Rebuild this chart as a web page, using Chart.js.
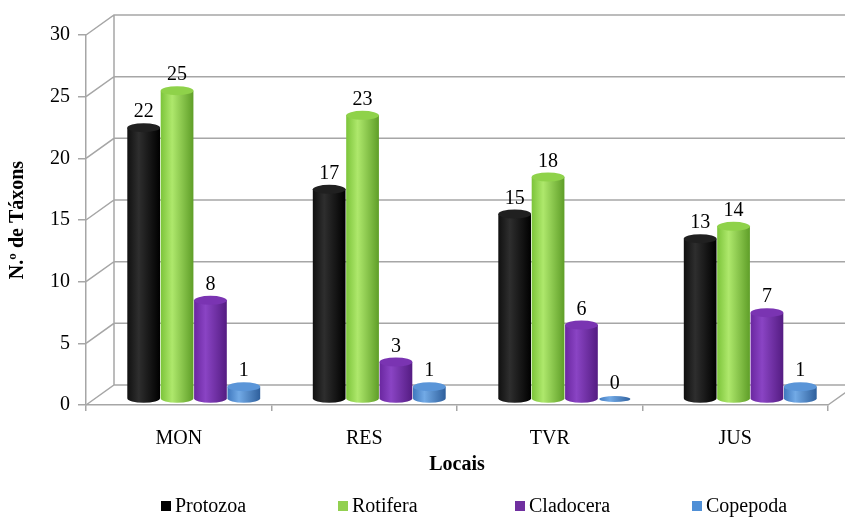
<!DOCTYPE html>
<html>
<head>
<meta charset="utf-8">
<script src="https://cdn.jsdelivr.net/npm/chart.js@4.4.1/dist/chart.umd.min.js"></script>
<style>
  html, body { margin: 0; padding: 0; background: #fff; }
  #wrap { width: 845px; height: 517px; }
</style>
</head>
<body>
<div id="wrap"><canvas id="chart"></canvas></div>
<script>
const locais = ['MON', 'RES', 'TVR', 'JUS'];
const protozoa = [22, 17, 15, 13];
const rotifera = [25, 23, 18, 14];
const cladocera = [8, 3, 6, 7];
const copepoda = [1, 1, 0, 1];
const seriesNames = ['Protozoa', 'Rotifera', 'Cladocera', 'Copepoda'];
const seriesColors = ['#000000', '#92d050', '#7030a0', '#4f8fd6'];

// cylinder shading: left edge, highlight, right edge, top cap
const shades = [
  ['#101010', '#2e2e2e', '#000000', '#202020'],
  ['#7cc43a', '#aee86c', '#5f9e28', '#8fd24a'],
  ['#6a27a0', '#8a44c4', '#541c82', '#7a34b2'],
  ['#3f78be', '#72aae6', '#2e5f9c', '#5a95d8']
];

const SERIF = "'Liberation Serif', 'Times New Roman', serif";
const GRID = '#a6a6a6';
// depth of the 3D box and where the bars sit inside it
const DEPTH_X = 28, DEPTH_Y = -20;
const BAR_X = 15, BAR_Y = -6;
const CAP_RY = 4.5;
// legend row
const LEGEND_X = 161, LEGEND_STEP = 177, LEGEND_Y = 506;

const frame3d = {
  id: 'frame3d',
  beforeDatasetsDraw(chart) {
    const { ctx, chartArea: a, scales: { y } } = chart;
    ctx.save();
    ctx.strokeStyle = GRID;
    ctx.lineWidth = 1.5;
    ctx.beginPath();
    // back wall gridlines and the slanted links to the front axis
    y.ticks.forEach(t => {
      const py = y.getPixelForValue(t.value);
      ctx.moveTo(a.left, py);
      ctx.lineTo(a.left + DEPTH_X, py + DEPTH_Y);
      ctx.lineTo(chart.width + 5, py + DEPTH_Y);
    });
    // back wall left edge
    ctx.moveTo(a.left + DEPTH_X, y.getPixelForValue(30) + DEPTH_Y);
    ctx.lineTo(a.left + DEPTH_X, y.getPixelForValue(0) + DEPTH_Y);
    // floor right edge
    ctx.moveTo(a.right, a.bottom);
    ctx.lineTo(a.right + DEPTH_X, a.bottom + DEPTH_Y);
    ctx.stroke();
    ctx.restore();
  },
  beforeDatasetDraw() {
    return false;
  },
  afterDatasetsDraw(chart) {
    const { ctx } = chart;
    ctx.save();
    ctx.translate(BAR_X, BAR_Y);
    chart.data.datasets.forEach((ds, di) => {
      const meta = chart.getDatasetMeta(di);
      meta.data.forEach((bar, i) => {
        drawCylinder(ctx, bar.x, bar.width, bar.y, bar.base, shades[di]);
        ctx.fillStyle = '#000';
        ctx.font = '20px ' + SERIF;
        ctx.textAlign = 'center';
        ctx.textBaseline = 'bottom';
        ctx.fillText(String(ds.data[i]), bar.x, bar.y - CAP_RY - 1);
      });
    });
    ctx.restore();
  },
  afterDraw(chart) {
    // legend: square swatch + name, evenly spaced
    const { ctx } = chart;
    ctx.save();
    ctx.font = '20px ' + SERIF;
    ctx.textAlign = 'left';
    ctx.textBaseline = 'middle';
    chart.data.datasets.forEach((ds, i) => {
      const x = LEGEND_X + i * LEGEND_STEP;
      ctx.fillStyle = ds.backgroundColor;
      ctx.fillRect(x, LEGEND_Y - 5, 10, 10);
      ctx.fillStyle = '#000';
      ctx.fillText(ds.label, x + 14, LEGEND_Y + 1);
    });
    ctx.restore();
  }
};

function drawCylinder(ctx, x, w, top, base, sh) {
  const rx = w / 2;
  const l = x - rx, r = x + rx;
  const g = ctx.createLinearGradient(l, 0, r, 0);
  g.addColorStop(0, sh[0]);
  g.addColorStop(0.35, sh[1]);
  g.addColorStop(1, sh[2]);
  if (base - top > 0.5) {
    ctx.fillStyle = g;
    ctx.beginPath();
    ctx.moveTo(l, top);
    ctx.lineTo(l, base);
    ctx.ellipse(x, base, rx, CAP_RY, 0, Math.PI, 0, true);
    ctx.lineTo(r, top);
    ctx.closePath();
    ctx.fill();
    ctx.fillStyle = sh[3];
    ctx.beginPath();
    ctx.ellipse(x, top, rx, CAP_RY, 0, 0, Math.PI * 2);
    ctx.fill();
  } else {
    // empty value: just a flat disc on the floor
    ctx.fillStyle = g;
    ctx.beginPath();
    ctx.ellipse(x, base, rx * 0.95, 3, 0, 0, Math.PI * 2);
    ctx.fill();
  }
}

const values = [protozoa, rotifera, cladocera, copepoda];

new Chart(document.getElementById('chart'), {
  type: 'bar',
  data: {
    labels: locais,
    datasets: seriesNames.map((name, i) => ({
      label: name,
      data: values[i],
      backgroundColor: seriesColors[i],
      borderWidth: 0
    }))
  },
  options: {
    responsive: true,
    maintainAspectRatio: false,
    animation: false,
    datasets: {
      bar: { categoryPercentage: 0.72, barPercentage: 0.98 }
    },
    layout: { padding: { left: 4, right: 17, top: 35, bottom: 36 } },
    plugins: {
      tooltip: { enabled: false },
      legend: { display: false }
    },
    scales: {
      x: {
        grid: {
          offset: true,
          drawOnChartArea: false,
          tickLength: 6,
          color: GRID,
          lineWidth: 1.5
        },
        border: { display: true, color: GRID, width: 1.5 },
        ticks: { color: '#000', padding: 16, font: { family: SERIF, size: 20 } },
        title: {
          display: true,
          text: 'Locais',
          color: '#000',
          padding: { top: -14, bottom: 4 },
          font: { family: SERIF, size: 20, weight: 'bold' }
        }
      },
      y: {
        min: 0,
        max: 30,
        ticks: { stepSize: 5, color: '#000', padding: 8, font: { family: SERIF, size: 20 } },
        grid: {
          drawOnChartArea: false,
          tickLength: 8,
          color: GRID,
          lineWidth: 1.5
        },
        border: { display: true, color: GRID, width: 1.5 },
        title: {
          display: true,
          text: 'N.º de Táxons',
          color: '#000',
          padding: { top: 2, bottom: 12 },
          font: { family: SERIF, size: 20, weight: 'bold' }
        }
      }
    }
  },
  plugins: [frame3d]
});
</script>
</body>
</html>
